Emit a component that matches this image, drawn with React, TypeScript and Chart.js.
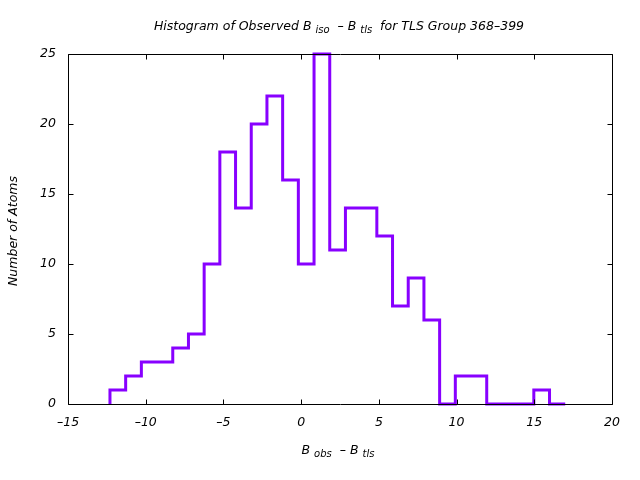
import React, { useEffect, useRef } from "react";
import { Chart, registerables } from "chart.js";

Chart.register(...registerables);

// ---- Data ----
const binStart = -12.3;
const binWidth = 1.01;
const counts = [1, 2, 3, 3, 4, 5, 10, 18, 14, 20, 22, 16, 10, 25, 11, 14, 14, 12, 7, 9, 6, 0, 2, 2, 0, 0, 0, 1, 0];
const xTicks = [-15, -10, -5, 0, 5, 10, 15, 20];
const yTicks = [0, 5, 10, 15, 20, 25];
const titleParts = [
  { t: "Histogram of Observed B ", sub: false },
  { t: "iso", sub: true },
  { t: "  – B ", sub: false },
  { t: "tls", sub: true },
  { t: "  for TLS Group 368–399", sub: false },
];
const xTitleParts = [
  { t: "B ", sub: false },
  { t: "obs", sub: true },
  { t: "  – B ", sub: false },
  { t: "tls", sub: true },
];
const yTitle = "Number of Atoms";

const FONT_FAMILY = "'DejaVu Sans', sans-serif";
const MAIN_FONT = `italic 12.5px ${FONT_FAMILY}`;
const SUB_FONT = `italic 10px ${FONT_FAMILY}`;
const LINE_COLOR = "#8800ff";

const fmt = (v: number) => (v < 0 ? "–" + Math.abs(v) : String(v));

function drawRich(ctx: CanvasRenderingContext2D, parts: { t: string; sub: boolean }[], cx: number, cy: number) {
  let total = 0;
  const widths = parts.map((p) => {
    ctx.font = p.sub ? SUB_FONT : MAIN_FONT;
    const w = ctx.measureText(p.t).width;
    total += w;
    return w;
  });
  let x = cx - total / 2;
  ctx.textAlign = "left";
  ctx.textBaseline = "middle";
  parts.forEach((p, i) => {
    ctx.font = p.sub ? SUB_FONT : MAIN_FONT;
    ctx.fillText(p.t, x, p.sub ? cy + 3 : cy);
    x += widths[i];
  });
}

const framePlugin = {
  id: "gnuplotFrame",
  afterDatasetsDraw(chart: any) {
    const { ctx, chartArea } = chart;
    const xs = chart.scales.x;
    const ys = chart.scales.y;
    const l = Math.round(chartArea.left) + 0.5;
    const r = Math.round(chartArea.right) + 0.5;
    const t = Math.round(chartArea.top) + 0.5;
    const b = Math.round(chartArea.bottom) + 0.5;
    const tickLen = 5;
    ctx.save();
    ctx.strokeStyle = "#000";
    ctx.lineWidth = 1;
    ctx.beginPath();
    ctx.rect(l, t, r - l, b - t);
    xTicks.forEach((v) => {
      const px = Math.round(xs.getPixelForValue(v)) + 0.5;
      ctx.moveTo(px, b);
      ctx.lineTo(px, b - tickLen);
      ctx.moveTo(px, t);
      ctx.lineTo(px, t + tickLen);
    });
    yTicks.forEach((v) => {
      const py = Math.round(ys.getPixelForValue(v)) + 0.5;
      ctx.moveTo(l, py);
      ctx.lineTo(l + tickLen, py);
      ctx.moveTo(r, py);
      ctx.lineTo(r - tickLen, py);
    });
    ctx.stroke();

    ctx.fillStyle = "#000";
    ctx.font = MAIN_FONT;
    ctx.textAlign = "center";
    ctx.textBaseline = "middle";
    xTicks.forEach((v) => {
      ctx.fillText(fmt(v), xs.getPixelForValue(v), chartArea.bottom + 19);
    });
    ctx.textAlign = "right";
    yTicks.forEach((v) => {
      ctx.fillText(fmt(v), chartArea.left - 12, ys.getPixelForValue(v));
    });

    drawRich(ctx, titleParts, 339, 27);
    drawRich(ctx, xTitleParts, 338, 451);

    ctx.translate(14, 231);
    ctx.rotate(-Math.PI / 2);
    ctx.font = MAIN_FONT;
    ctx.textAlign = "center";
    ctx.textBaseline = "middle";
    ctx.fillText(yTitle, 0, 0);
    ctx.restore();
  },
};

export default function App() {
  const canvasRef = useRef<HTMLCanvasElement | null>(null);

  useEffect(() => {
    const canvas = canvasRef.current;
    if (!canvas) return;
    const points: { x: number; y: number }[] = [{ x: binStart, y: 0 }];
    counts.forEach((c, i) => points.push({ x: binStart + i * binWidth, y: c }));
    points.push({ x: binStart + counts.length * binWidth, y: 0 });

    const chart = new Chart(canvas, {
      type: "line",
      data: {
        datasets: [
          {
            data: points,
            stepped: "before",
            borderColor: LINE_COLOR,
            borderWidth: 3,
            pointRadius: 0,
            fill: false,
            tension: 0,
            borderJoinStyle: "miter",
            borderCapStyle: "butt",
            clip: false,
          } as any,
        ],
      },
      options: {
        animation: false,
        responsive: false,
        events: [],
        layout: { padding: { left: 68, right: 28, top: 54, bottom: 76 } },
        plugins: {
          legend: { display: false },
          title: { display: false },
          tooltip: { enabled: false },
        },
        scales: {
          x: {
            type: "linear",
            min: -15,
            max: 20,
            grid: { display: false },
            border: { display: false },
            ticks: { display: false },
            afterFit: (s: any) => {
              s.height = 0;
            },
          },
          y: {
            type: "linear",
            min: 0,
            max: 25,
            grid: { display: false },
            border: { display: false },
            ticks: { display: false },
            afterFit: (s: any) => {
              s.width = 0;
            },
          },
        },
      },
      plugins: [framePlugin],
    });
    return () => chart.destroy();
  }, []);

  return (
    <div style={{ position: "fixed", left: 0, top: 0, width: 640, height: 480, background: "#fff" }}>
      <canvas ref={canvasRef} width={640} height={480} style={{ width: 640, height: 480, display: "block" }} />
    </div>
  );
}
